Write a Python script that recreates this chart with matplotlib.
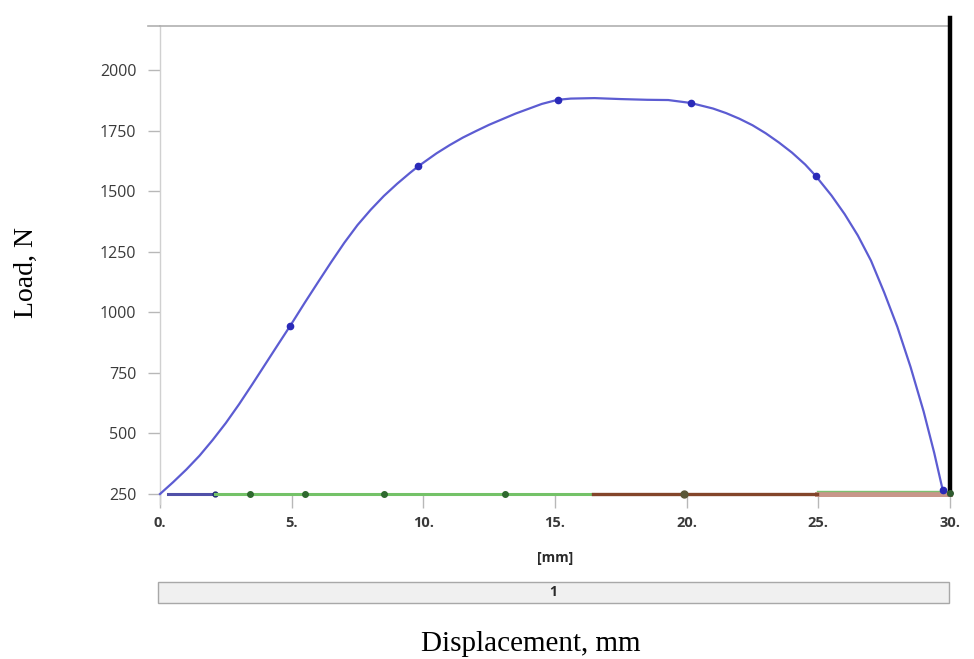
import matplotlib
matplotlib.use("Agg")
import matplotlib.pyplot as plt
from matplotlib.lines import Line2D
from matplotlib.patches import Rectangle

# ---------------- data ----------------
load_x = [0, 0.5, 1.0, 1.5, 2.0, 2.5, 3.0, 3.5, 4.0, 4.5, 4.95, 5.5, 6.0, 6.5,
          7.0, 7.5, 8.0, 8.5, 9.0, 9.5, 9.8, 10.5, 11.0, 11.5, 12.0, 12.5,
          13.0, 13.5, 14.0, 14.5, 15.1, 15.6, 16.5, 17.5, 18.5, 19.3, 20.15,
          21.0, 21.5, 22.0, 22.5, 23.0, 23.5, 24.0, 24.5, 24.9, 25.5, 26.0,
          26.5, 27.0, 27.5, 28.0, 28.5, 29.0, 29.4, 29.72]
load_y = [250, 299, 351, 408, 473, 543, 620, 702, 786, 870, 945, 1040, 1124, 1207,
          1287, 1360, 1423, 1480, 1530, 1576, 1602, 1656, 1690, 1721, 1748, 1774,
          1797, 1820, 1840, 1860, 1877, 1882, 1884, 1880, 1877, 1876, 1864,
          1841, 1822, 1799, 1772, 1739, 1701, 1659, 1610, 1563, 1482, 1405,
          1317, 1213, 1082, 940, 775, 590, 420, 268]
load_marker_idx = [10, 20, 30, 36, 45, 55]

s1_x = [0.3, 2.1]
s1_y = [252, 252]
s2_x = [2.1, 3.4, 5.5, 8.5, 13.1, 16.45]
s2_y = [252, 252, 252, 252, 252, 252]
s3_x = [16.45, 19.9, 24.95]
s3_y = [252, 252, 252]
s4_x = [24.95, 30.0]
s4_y = [252, 252]
s5_x = [24.95, 30.0]
s5_y = [262, 262]
end_x = [30.0, 30.0]
end_y = [250, 2215]

x_ticks = [0, 5, 10, 15, 20, 25, 30]
x_tick_labels = ["0.", "5.", "10.", "15.", "20.", "25.", "30."]
y_ticks = [250, 500, 750, 1000, 1250, 1500, 1750, 2000]
y_tick_labels = ["250", "500", "750", "1000", "1250", "1500", "1750", "2000"]

# ---------------- figure ----------------
W, H = 974, 659
fig = plt.figure(figsize=(W / 100, H / 100), dpi=100)
ax = fig.add_axes([160 / W, 1 - 494 / H, 790 / W, 468 / H])

ax.plot(load_x, load_y, color="#5c5cd2", lw=1.6, marker="o", ms=4.5,
        markevery=load_marker_idx, mfc="#2a2ab8", mec="#2a2ab8", clip_on=False, zorder=4)
ax.plot(s1_x, s1_y, color="#5050a8", lw=2.2, marker="o", ms=3.5,
        markevery=[1], mfc="#203070", mec="#203070", clip_on=False, zorder=3)
ax.plot(s2_x, s2_y, color="#74c268", lw=2.2, marker="o", ms=4,
        markevery=[1, 2, 3, 4], mfc="#2f6a2f", mec="#2f6a2f", clip_on=False, zorder=3)
ax.plot(s3_x, s3_y, color="#83452a", lw=2.4, marker="o", ms=5,
        markevery=[1], mfc="#5b5838", mec="#5b5838", clip_on=False, zorder=3)
ax.plot(s4_x, s4_y, color="#c8968a", lw=3.6, clip_on=False, zorder=2)
ax.plot(s5_x, s5_y, color="#7cc070", lw=1.0, clip_on=False, zorder=2)
ax.plot(end_x, end_y, color="black", lw=3.2, clip_on=False, zorder=5)
ax.plot([end_x[0]], [end_y[0] + 5], "o", color="#2f5a2f", ms=4, clip_on=False, zorder=6)

ax.set_xlim(0, 30)
ax.set_ylim(250, 2181.6)

ax.set_xticks(x_ticks)
ax.set_xticklabels(x_tick_labels, family="Open Sans", fontweight="bold",
                   fontsize=10.5, color="#3a3a3a")
ax.set_yticks(y_ticks)
ax.set_yticklabels(y_tick_labels, family="Open Sans", fontsize=11.5, color="#3a3a3a")
ax.tick_params(axis="x", length=10, width=1, color="#b8b8b8", pad=6, direction="out")
ax.tick_params(axis="y", length=9, width=1, color="#b8b8b8", pad=8, direction="out")

for side in ["right", "bottom"]:
    ax.spines[side].set_visible(False)
ax.spines["left"].set_color("#d0d0d0")
ax.spines["left"].set_linewidth(1.0)
ax.spines["top"].set_color("#b0b0b0")
ax.spines["top"].set_linewidth(1.2)

# extend top rule to the left and left rule slightly below the baseline
ax.add_line(Line2D([-12 / 790, 0], [1, 1], transform=ax.transAxes,
                   color="#b0b0b0", lw=1.2, clip_on=False))
ax.add_line(Line2D([0, 0], [0, -10 / 468], transform=ax.transAxes,
                   color="#d0d0d0", lw=1.0, clip_on=False))

# axis unit label
fig.text(555 / W, 1 - 558 / H, "[mm]", family="Open Sans", fontweight="bold",
         fontsize=10, color="#2a2a2a", ha="center", va="center")

# step bar
fig.add_artist(Rectangle((158 / W, 1 - 603 / H), 791 / W, 21 / H,
                         transform=fig.transFigure, facecolor="#f0f0f0",
                         edgecolor="#a8a8a8", lw=1.0))
fig.text(553 / W, 1 - 592 / H, "1", family="Open Sans", fontweight="bold",
         fontsize=10, color="#2a2a2a", ha="center", va="center")

# outer labels
fig.text(531 / W, 1 - 651 / H, "Displacement, mm", family="Liberation Serif",
         fontsize=21, ha="center", va="baseline", color="black")
fig.text(26 / W, 1 - 272 / H, "Load, N", family="Liberation Serif",
         fontsize=20, rotation=90, ha="center", va="center", color="black")

fig.savefig("out.png", dpi=100)
